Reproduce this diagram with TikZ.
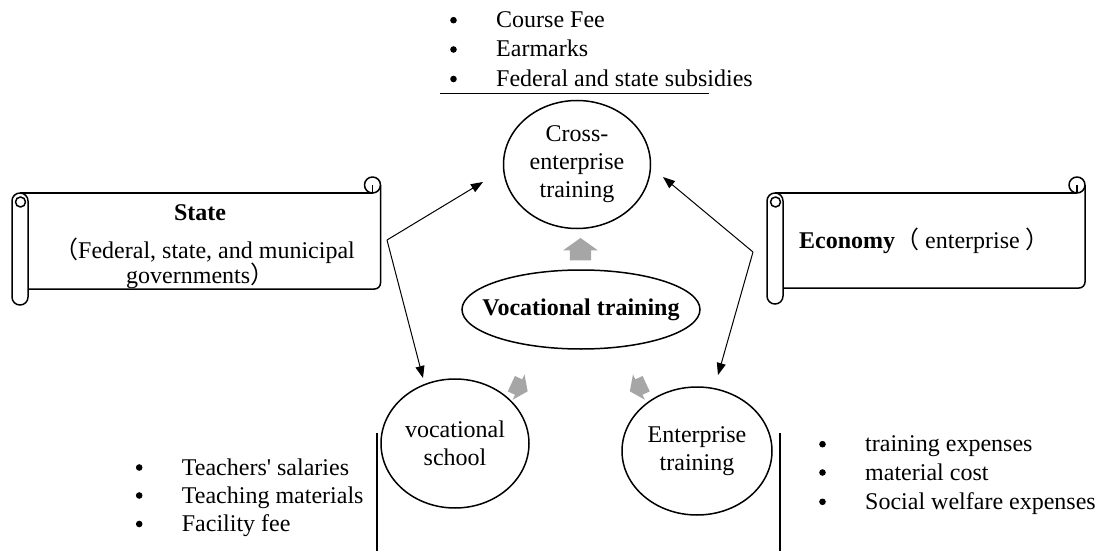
\documentclass[tikz,border=0pt]{standalone}
\usepackage{fontspec}
\setmainfont{Liberation Serif}[Ligatures=TeXOff]
\newfontfamily\cjkfont{Noto Sans CJK SC}
\usetikzlibrary{shapes.geometric,arrows.meta}
\definecolor{blockgray}{RGB}{166,166,166}
\newcommand\fsz{\fontsize{24}{28}\selectfont}
% horizontal scroll: left, top, right, bottom (pixel coordinates)
\newcommand\myscroll[4]{%
  \draw[scrollline] (#1+8,#2+16) -- (#3-8,#2+16);
  \draw[scrollline, rounded corners=6pt] (#3,#2+8) -- (#3,#4-16) -- (#1+16,#4-16);
  \draw[scrollline] (#3-8,#2+8) circle[radius=8pt];
  \draw[scrollline] (#3-8,#2+8) -- (#3-8,#2+16);
  \draw[scrollline, fill=white, rounded corners=7.9pt] (#1,#2+16) rectangle (#1+16,#4);
  \draw[scrollline] (#1+8.5,#2+25) circle[radius=5pt];
}
% gray block arrow: x, y, angle, scale
\newcommand\blockarrow[4]{%
  \begin{scope}[shift={(#1,#2)}, rotate=#3, scale=#4]
    \fill[blockgray] (9,0) -- (-1,14) -- (-1,8.5) -- (-9,8.5) -- (-9,-8.5) -- (-1,-8.5) -- (-1,-14) -- cycle;
  \end{scope}}
% list item: text x, baseline y, name, text (bullet 42.5pt to the left)
\newcommand\listitem[4]{%
  \fill (#1-42.5,#2-7.5) circle[radius=3.3pt];
  \node[item] (#3) at (#1,#2) {#4};}
\begin{document}
\begin{tikzpicture}[x=1pt,y=-1pt,
  every node/.style={font=\fsz, inner sep=0pt},
  oval/.style={ellipse, draw, line width=1.5pt, align=center},
  conn/.style={line width=1pt, -{Triangle[length=12pt,width=9pt]}},
  scrollline/.style={line width=1.5pt, line join=round},
  item/.style={anchor=base west},
  rule/.style={line width=1.1pt}]
\useasboundingbox (0,0) rectangle (1104,551);

% scrolls
\myscroll{12}{177}{380.5}{305}
\myscroll{767}{177}{1085}{304}

\node[anchor=base, font=\fsz\bfseries] (statet) at (200,220) {State};
\node[anchor=base east] (stateb) at (355,258) {{\cjkfont （}Federal, state, and municipal};
\node[anchor=base west] (statec) at (126,283) {governments{\cjkfont ）}};
\node[anchor=base west] (econ) at (799,248) {\textbf{Economy}{\cjkfont （} enterprise {\cjkfont ）}};

% ellipses
\node[oval, minimum width=147pt, minimum height=128pt] (cross) at (577,164.5) {Cross-\\enterprise\\training};
\node[oval, minimum width=238pt, minimum height=79pt, inner xsep=-40pt, font=\fsz\bfseries] (vt) at (581,309.5) {Vocational training};
\node[oval, minimum width=148pt, minimum height=129pt] (school) at (455,443.5) {vocational\\school};
\node[oval, minimum width=150pt, minimum height=128pt] (ent) at (697,451) {Enterprise\\training};

% connectors
\coordinate (sj) at (387,240);
\coordinate (sa) at (483,182);
\coordinate (sb) at (423,378);
\coordinate (ej) at (753,252);
\coordinate (ea) at (663,177);
\coordinate (eb) at (718,375);
\draw[conn] (sj) -- (sa);
\draw[conn] (sj) -- (sb);
\draw[conn] (ej) -- (ea);
\draw[conn] (ej) -- (eb);

% gray block arrows
\blockarrow{580.5}{249.2}{90}{1.25}
\blockarrow{519.5}{387.5}{-25}{1}
\blockarrow{638}{387.5}{205}{1}

% top list
\coordinate (topl) at (440,93.5);
\coordinate (topr) at (709,93.5);
\draw[rule] (topl) -- (topr);
\listitem{496}{27.7}{t1}{Course Fee}
\listitem{496}{57}{t2}{Earmarks}
\listitem{496}{86.5}{t3}{Federal and state subsidies}

% left list
\coordinate (ll1) at (377,433);
\coordinate (ll2) at (377,551);
\draw[rule] (ll1) -- (ll2);
\listitem{181.7}{475}{l1}{Teachers' salaries}
\listitem{181.7}{503}{l2}{Teaching materials}
\listitem{181.7}{531.5}{l3}{Facility fee}

% right list
\coordinate (rl1) at (780,433);
\coordinate (rl2) at (780,551);
\draw[rule] (rl1) -- (rl2);
\listitem{865}{451.7}{r1}{training expenses}
\listitem{865}{480}{r2}{material cost}
\listitem{865}{509.3}{r3}{Social welfare expenses}
\end{tikzpicture}
\end{document}
